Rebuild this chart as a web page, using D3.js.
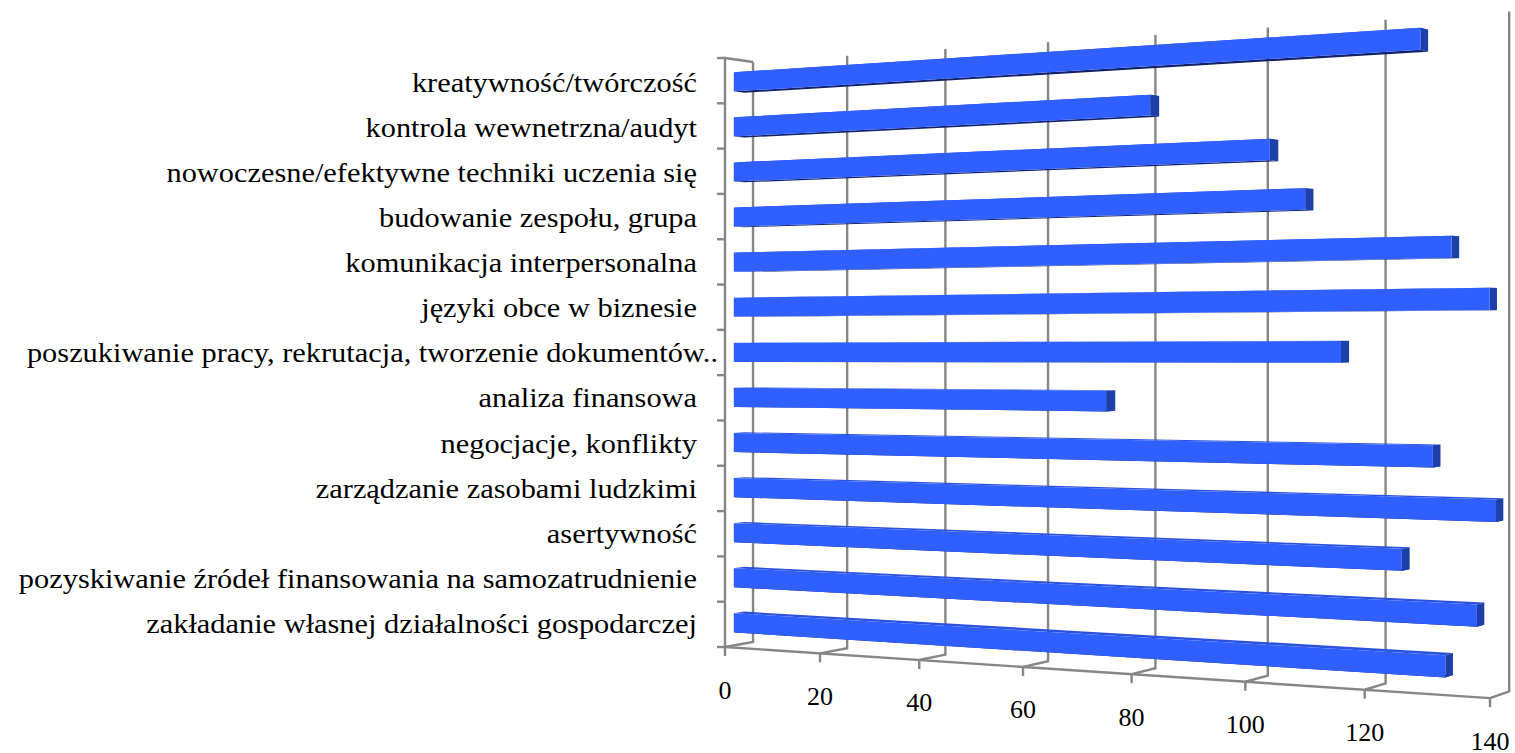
<!DOCTYPE html>
<html><head><meta charset="utf-8">
<script src="https://cdn.jsdelivr.net/npm/d3@7"></script>
<style>html,body{margin:0;padding:0;background:#fff;overflow:hidden}text{font-family:"Liberation Serif",serif;fill:#000}</style>
</head><body><svg id="c" width="1515" height="753"></svg>
<script>
const categories = ["zakładanie własnej działalności gospodarczej","pozyskiwanie źródeł finansowania na samozatrudnienie","asertywność","zarządzanie zasobami ludzkimi","negocjacje, konflikty","analiza finansowa","poszukiwanie pracy, rekrutacja, tworzenie dokumentów..","języki obce w biznesie","komunikacja interpersonalna","budowanie zespołu, grupa","nowoczesne/efektywne techniki uczenia się","kontrola wewnetrzna/audyt","kreatywność/twórczość"];
const values = [132,137,125,140,130,74,115,139,133,109,103,82,128];
const valueTicks = [0,20,40,60,80,100,120,140];

const colors = {front:"#2f5fff",top:"#2a52dc",bottom:"#12226a",cap:"#1c3fa8",grid:"#868686"};

const sv = d3.scaleLinear().domain([0,140]).range([0,140]);
const sc = d3.scaleBand().domain(categories).range([0,1]).paddingInner(0.576).paddingOuter(0.288);

// Perspective camera
function P(v,t,z){
  const w = 1 - 0.001066*v + 0.0155*z;
  return [(725 + 3.876*v + 39.7*z)/w, (647 - 589*t - 0.379*v + 4.95*z)/w];
}
const svg = d3.select("#c");
const line = d3.line();
const poly = pts => line(pts)+"Z";

const g = svg.append("g").attr("fill","none").attr("stroke",colors.grid).attr("stroke-width",2.4);
valueTicks.forEach(v=>{
  const x = sv(v);
  g.append("path").attr("d",line([P(x,1,1),P(x,0,1),P(x,0,0)]));
  const p = P(x,0,0);
  g.append("path").attr("d",line([p,[p[0],p[1]+9]]));
  svg.append("text").attr("x",p[0]).attr("y",p[1]+51.5).attr("text-anchor","middle")
    .attr("font-size",26).text(d3.format("d")(v));
});
g.append("path").attr("d",line([P(sv(0),0,0),P(sv(140),0,0)]));
g.append("path").attr("d",line([P(0,0,0),P(0,1,0),P(0,1,1)]));
const step = sc.step();
d3.range(categories.length+1).forEach(i=>{
  const p = P(0,i*step,0);
  g.append("path").attr("d",line([[p[0]-8,p[1]],p]));
});

const z0=0.31,z1=0.69;
const bars = svg.append("g").attr("stroke","none");
categories.forEach((c,i)=>{
  const t0=sc(c), t1=t0+sc.bandwidth(), v=sv(values[i]);
  bars.append("path").attr("fill",colors.top).attr("d",poly([P(0,t1,z0),P(v,t1,z0),P(v,t1,z1),P(0,t1,z1)]));
  bars.append("path").attr("fill",colors.bottom).attr("d",poly([P(0,t0,z0),P(v,t0,z0),P(v,t0,z1),P(0,t0,z1)]));
  bars.append("path").attr("fill",colors.cap).attr("d",poly([P(v,t0,z0),P(v,t1,z0),P(v,t1,z1),P(v,t0,z1)]));
  bars.append("path").attr("fill",colors.front).attr("d",poly([P(0,t0,z0),P(v,t0,z0),P(v,t1,z0),P(0,t1,z0)]));
});
const stretch = 1.125;
categories.forEach((c,i)=>{
  const y = P(0,sc(c)+sc.bandwidth()/2,0.32)[1];
  const t = svg.append("text").attr("x",c.endsWith("..")?718:697).attr("y",y+10)
    .attr("text-anchor","end").attr("font-size",27).text(c);
  const n = t.node().getComputedTextLength();
  t.attr("textLength",n*stretch).attr("lengthAdjust","spacingAndGlyphs");
});
</script></body></html>
